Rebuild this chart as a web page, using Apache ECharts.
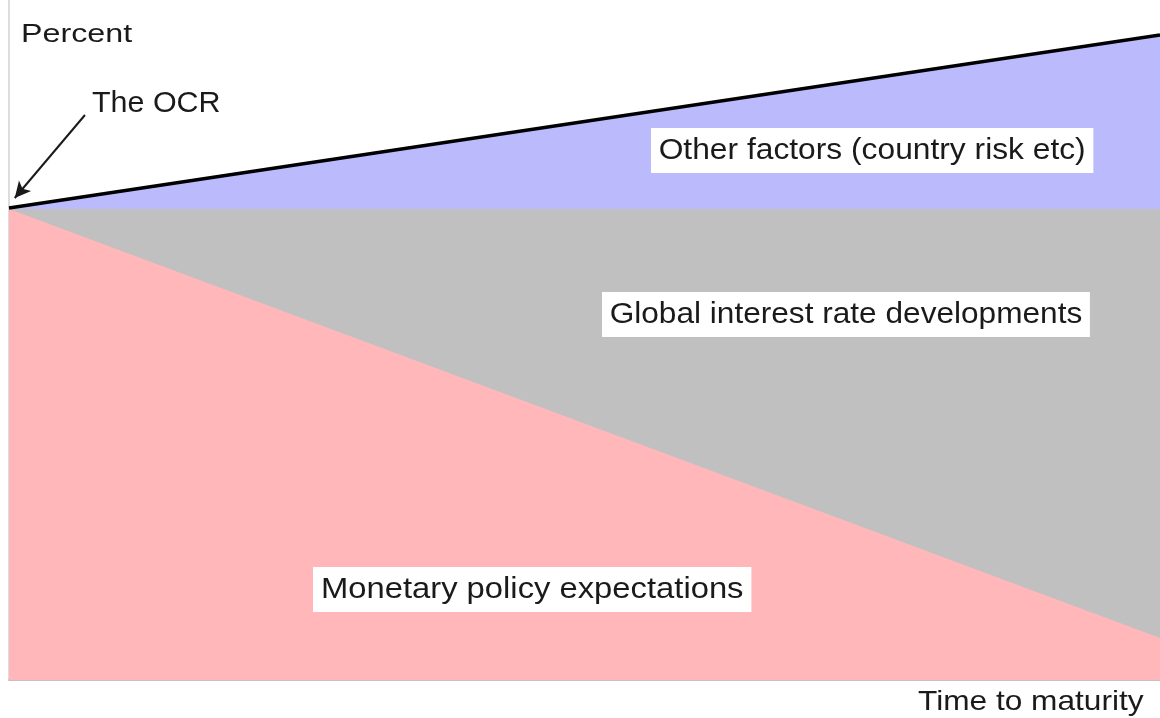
<!DOCTYPE html>
<html>
<head>
<meta charset="utf-8">
<script src="https://cdn.jsdelivr.net/npm/echarts@6/dist/echarts.min.js"></script>
<style>
  html, body { margin: 0; padding: 0; background: #fff; }
  #chart { width: 1160px; height: 718px; }
</style>
</head>
<body>
<div id="chart"></div>
<script>
// schematic yield curve: time to maturity (0..100) vs percent (0..68)
const maturity = [0, 100]
const yieldCurve = [47.2, 64.5]    // black line, the OCR at the left end
const globalLevel = [47.1, 47.1]   // top of the grey band
const policyPath = [47.1, 4.2]     // top of the pink band
const ocrArrow = [[6.6, 56.5], [0.5, 48.2]]

const font = '"Liberation Sans", Arial, sans-serif'

function pairs(ys) {
  return maturity.map((x, i) => [x, ys[i]])
}

function boxLabel(text, x, y, size, sx, bg) {
  return {
    type: 'text',
    x: x,
    y: y,
    scaleX: sx,
    z: 100,
    style: {
      text: text,
      font: size + 'px ' + font,
      fill: '#1a1a1a',
      backgroundColor: bg,
      padding: bg ? [8, 7, 8, 7] : 0
    }
  }
}

function band(name, ys, color, z) {
  return {
    name: name,
    type: 'line',
    data: pairs(ys),
    symbol: 'none',
    lineStyle: { width: 0 },
    areaStyle: { color: color, opacity: 1 },
    z: z
  }
}

const chart = echarts.init(document.getElementById('chart'))

const option = {
  animation: false,
  grid: { left: 9, right: 0, top: 0, bottom: 38 },
  xAxis: {
    type: 'value',
    min: 0,
    max: 100,
    axisLine: { show: true, lineStyle: { color: '#b9a9b0', width: 1.5 } },
    axisTick: { show: false },
    axisLabel: { show: false },
    splitLine: { show: false }
  },
  yAxis: {
    type: 'value',
    min: 0,
    max: 68,
    axisLine: { show: true, lineStyle: { color: '#d4d0d4', width: 1.5 } },
    axisTick: { show: false },
    axisLabel: { show: false },
    splitLine: { show: false }
  },
  series: [
    band('Other factors', yieldCurve, '#babafc', 1),
    band('Global interest rate developments', globalLevel, '#c0c0c0', 2),
    band('Monetary policy expectations', policyPath, '#ffb7ba', 3),
    {
      name: 'Yield curve',
      type: 'line',
      data: pairs(yieldCurve),
      symbol: 'none',
      lineStyle: { color: '#000', width: 3.5 },
      z: 4,
      markLine: {
        silent: true,
        symbol: ['none', 'arrow'],
        symbolSize: [12, 16],
        label: { show: false },
        lineStyle: { color: '#1a1a1a', width: 2, type: 'solid' },
        data: [[{ coord: ocrArrow[0] }, { coord: ocrArrow[1] }]]
      }
    }
  ],
  graphic: [
    boxLabel('Percent', 21, 22, 26, 1.24, null),
    boxLabel('The OCR', 92, 89, 29, 1.05, null),
    boxLabel('Other factors (country risk etc)', 651, 128, 29, 1.095, '#fff'),
    boxLabel('Global interest rate developments', 602, 292, 29, 1.09, '#fff'),
    boxLabel('Monetary policy expectations', 313, 567, 29, 1.13, '#fff'),
    boxLabel('Time to maturity', 918, 688, 28, 1.13, null)
  ]
}

chart.setOption(option)
</script>
</body>
</html>
